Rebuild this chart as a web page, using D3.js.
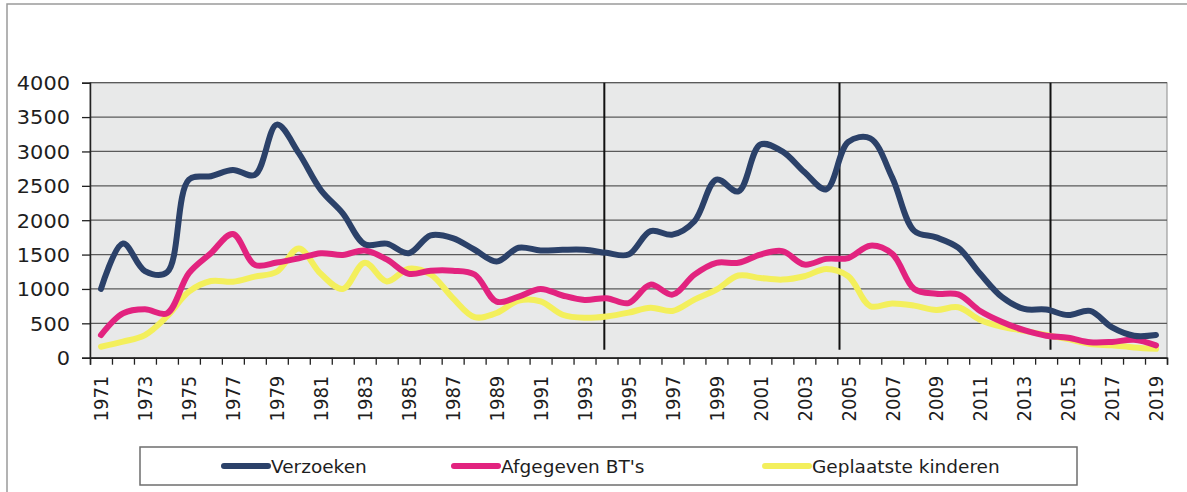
<!DOCTYPE html>
<html>
<head>
<meta charset="utf-8">
<script src="https://cdn.jsdelivr.net/npm/d3@7"></script>
<style>
  body { margin: 0; background: #fff; }
  svg { display: block; }
  text { font-family: "DejaVu Sans", Verdana, sans-serif; fill: #1e1e1e; }
</style>
</head>
<body>
<div id="chart"></div>
<script>
// Data
var years = [1971,1972,1973,1974,1975,1976,1977,1978,1979,1980,1981,1982,
             1983,1984,1985,1986,1987,1988,1989,1990,1991,1992,1993,1994,
             1995,1996,1997,1998,1999,2000,2001,2002,2003,2004,2005,2006,
             2007,2008,2009,2010,2011,2012,2013,2014,2015,2016,2017,2018,2019];
var verzoeken = [1000,1660,1260,1240,2590,2640,2730,2660,3390,2975,2440,2100,
                 1650,1660,1520,1780,1740,1570,1400,1600,1560,1570,1570,1525,
                 1500,1840,1790,1985,2590,2420,3100,3000,2700,2450,3140,3190,
                 2620,1845,1750,1600,1220,880,710,700,620,680,440,320,330];
var afgegeven = [330,645,705,645,1230,1520,1800,1350,1385,1445,1520,1495,
                 1560,1430,1220,1265,1265,1210,815,890,1000,905,840,865,
                 795,1063,917,1209,1380,1380,1500,1550,1355,1437,1450,1630,
                 1510,1000,930,920,680,520,400,320,290,225,230,260,180];
var geplaatst = [160,233,330,600,960,1115,1105,1180,1250,1590,1220,1000,
                 1380,1110,1295,1210,870,590,650,830,820,625,580,600,
                 655,728,680,845,990,1195,1160,1136,1185,1290,1185,750,
                 790,757,694,733,550,450,392,330,270,200,180,150,130];
var seriesNames = ["Verzoeken", "Afgegeven BT's", "Geplaatste kinderen"];
var yTicks = [0,500,1000,1500,2000,2500,3000,3500,4000];
var markerYears = [1993.9, 2004.6, 2014.2];   // hand drawn vertical lines

var colors = ['#2b4169', '#e2237f', '#f3ef5c'];
var series = [verzoeken, afgegeven, geplaatst];

var W = 1187, H = 492;
var margin = {top: 82.7, right: 20, bottom: 134, left: 90};
var width = 1077;
var height = 275;

var svg = d3.select("#chart").append("svg")
    .attr("width", W)
    .attr("height", H);

// outer frame (partly cut off in the scan)
svg.append("rect")
    .attr("x", 7).attr("y", 4)
    .attr("width", 1200).attr("height", 520)
    .attr("fill", "none")
    .attr("stroke", "#9a9a9a")
    .attr("stroke-width", 1.5);

var g = svg.append("g")
    .attr("transform", "translate(" + margin.left + "," + margin.top + ")");

// scales
var x = d3.scaleBand().domain(years).range([0, width]).padding(0);
var xEdge = d3.scaleLinear().domain([0, years.length]).range([0, width]);
var xYear = d3.scaleLinear()
    .domain([years[0], years[years.length - 1]])
    .range([x(years[0]) + x.bandwidth() / 2, x(years[years.length - 1]) + x.bandwidth() / 2]);
var y = d3.scaleLinear().domain([0, 4000]).range([height, 0]);

// plot background
g.append("rect")
    .attr("width", width)
    .attr("height", height)
    .attr("fill", "#e8e9e9")
    .attr("stroke", "#8a8a8a")
    .attr("stroke-width", 1);

// gridlines
g.append("g").selectAll("line")
    .data(yTicks)
    .enter().append("line")
    .attr("x1", 0).attr("x2", width)
    .attr("y1", function(d) { return y(d); })
    .attr("y2", function(d) { return y(d); })
    .attr("stroke", "#5a5a5a")
    .attr("stroke-width", 1.3);

// vertical marker lines
g.append("g").selectAll("line")
    .data(markerYears)
    .enter().append("line")
    .attr("x1", function(d) { return xYear(d); })
    .attr("x2", function(d) { return xYear(d); })
    .attr("y1", 0)
    .attr("y2", height - 8)
    .attr("stroke", "#111")
    .attr("stroke-width", 2);

// Y axis
var yAxis = g.append("g")
    .attr("class", "y axis")
    .call(d3.axisLeft(y).tickValues(yTicks).tickSize(8).tickPadding(12).tickFormat(d3.format("d")));
yAxis.select(".domain").attr("stroke", "#222").attr("stroke-width", 1.5);
yAxis.selectAll(".tick line").attr("stroke", "#222").attr("stroke-width", 1.3);
yAxis.selectAll("text")
    .style("font-size", "19px")
    .attr("dy", "0.36em")
    .each(function() {
        var len = this.getComputedTextLength();
        d3.select(this).attr("textLength", len * 1.1).attr("lengthAdjust", "spacingAndGlyphs");
    });

// X axis tick marks at category edges
var xAxisEdge = g.append("g")
    .attr("transform", "translate(0," + height + ")")
    .call(d3.axisBottom(xEdge).tickValues(d3.range(0, years.length + 1)).tickSize(7).tickFormat(""));
xAxisEdge.select(".domain").attr("stroke", "#222").attr("stroke-width", 1.5);
xAxisEdge.selectAll(".tick line").attr("stroke", "#222").attr("stroke-width", 1.3);

// X labels (every other year)
var xAxis = g.append("g")
    .attr("transform", "translate(0," + height + ")")
    .call(d3.axisBottom(x)
        .tickValues(years.filter(function(d, i) { return i % 2 === 0; }))
        .tickSize(0));
xAxis.select(".domain").remove();
xAxis.selectAll("text")
    .style("font-size", "18px")
    .style("text-anchor", "end")
    .attr("x", -18)
    .attr("y", 0)
    .attr("dy", "0.36em")
    .attr("transform", "rotate(-90) scale(1,1.12)");

// lines
var line = d3.line()
    .x(function(d, i) { return x(years[i]) + x.bandwidth() / 2; })
    .y(function(d) { return y(d); })
    .curve(d3.curveCatmullRom.alpha(0.5));

g.append("g").selectAll("path")
    .data([2, 1, 0])
    .enter().append("path")
    .attr("d", function(k) { return line(series[k]); })
    .attr("fill", "none")
    .attr("stroke", function(k) { return colors[k]; })
    .attr("stroke-width", 6)
    .attr("stroke-linejoin", "round")
    .attr("stroke-linecap", "round");

// Legend
var legend = svg.append("g");
legend.append("rect")
    .attr("x", 140).attr("y", 447)
    .attr("width", 937).attr("height", 38)
    .attr("fill", "#fff")
    .attr("stroke", "#6e6e6e")
    .attr("stroke-width", 1.5);

var legendX = [224, 454, 765];
var item = legend.selectAll(".item")
    .data(seriesNames)
    .enter().append("g")
    .attr("class", "item")
    .attr("transform", function(d, i) { return "translate(" + legendX[i] + ",466)"; });
item.append("line")
    .attr("x1", 0).attr("x2", 44)
    .attr("stroke", function(d, i) { return colors[i]; })
    .attr("stroke-width", 6)
    .attr("stroke-linecap", "round");
item.append("text")
    .attr("x", 47)
    .attr("dy", "0.36em")
    .style("font-size", "18.5px")
    .text(function(d) { return d; });
</script>
</body>
</html>
